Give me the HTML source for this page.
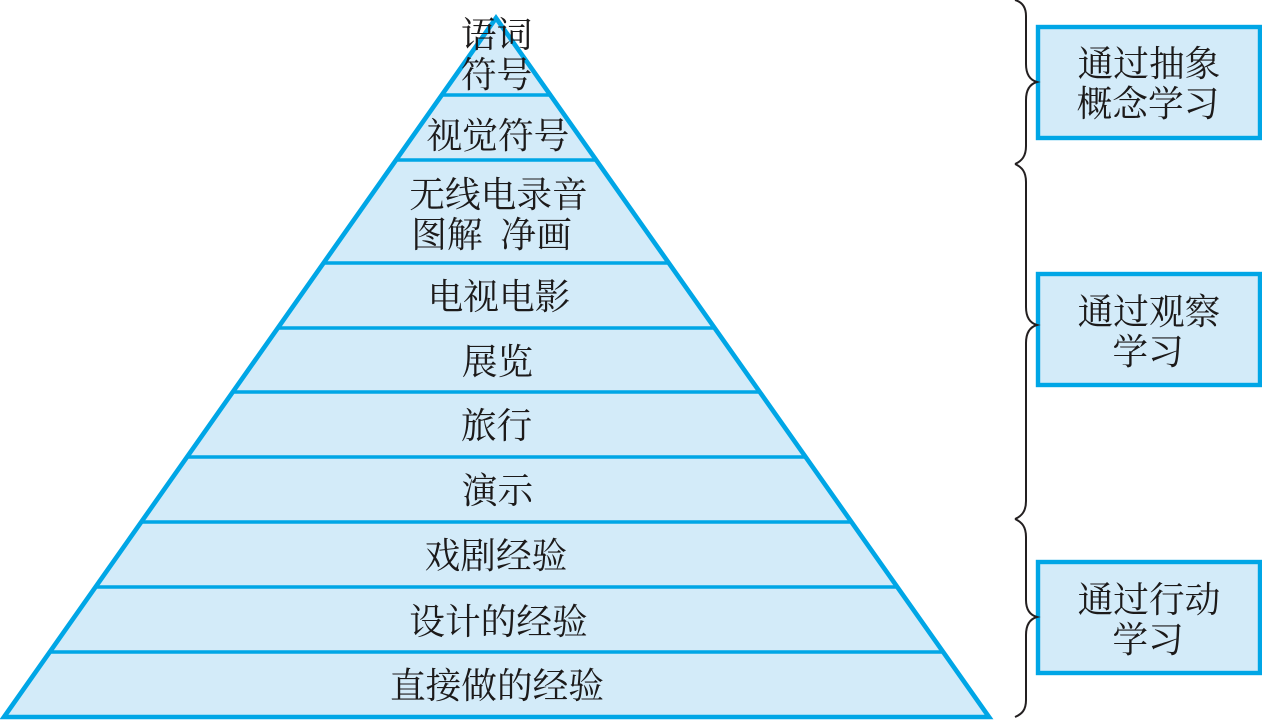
<!DOCTYPE html>
<html lang="zh">
<head>
<meta charset="utf-8">
<style>
html,body{margin:0;padding:0;background:#fff;width:1262px;height:720px;overflow:hidden}
svg{display:block}
text{font-family:"Liberation Serif","Noto Serif CJK SC",serif;font-size:35.7px;fill:#1c1a1a;text-anchor:middle}
</style>
</head>
<body>
<svg width="1262" height="720" viewBox="0 0 1262 720" xmlns="http://www.w3.org/2000/svg">
<polygon points="496,18 4,717 989,717" fill="#d3ebf9" stroke="#00a6e6" stroke-width="4.6" stroke-linejoin="miter"/>
<g stroke="#00a6e6" stroke-width="3.6">
<line x1="441" y1="95" x2="552" y2="95"/>
<line x1="397" y1="160" x2="597" y2="160"/>
<line x1="324" y1="263" x2="668" y2="263"/>
<line x1="278" y1="328" x2="714" y2="328"/>
<line x1="233" y1="392" x2="759" y2="392"/>
<line x1="187" y1="457" x2="805" y2="457"/>
<line x1="141" y1="522" x2="851" y2="522"/>
<line x1="96" y1="587" x2="896" y2="587"/>
<line x1="50" y1="652" x2="942" y2="652"/>
</g>
<text x="496.500" y="47">语词</text>
<text x="496.500" y="87">符号</text>
<text x="498" y="148">视觉符号</text>
<text x="498.500" y="207">无线电录音</text>
<text x="491.500" y="247">图解&#160;&#160;净画</text>
<text x="499" y="309">电视电影</text>
<text x="497.500" y="374">展览</text>
<text x="496.500" y="438">旅行</text>
<text x="497.500" y="503">演示</text>
<text x="496" y="568">戏剧经验</text>
<text x="498.500" y="634">设计的经验</text>
<text x="497" y="698">直接做的经验</text>
<g fill="#d3ebf9" stroke="#00a6e6" stroke-width="4.4">
<rect x="1038" y="27" width="222" height="111"/>
<rect x="1038" y="274" width="222" height="111"/>
<rect x="1038" y="562" width="222" height="111"/>
</g>
<text x="1149" y="76">通过抽象</text>
<text x="1148" y="116">概念学习</text>
<text x="1149" y="324">通过观察</text>
<text x="1148" y="364">学习</text>
<text x="1149" y="612">通过行动</text>
<text x="1148" y="652">学习</text>
<g fill="none" stroke="#231f20" stroke-width="2">
<path d="M1015,0 C1022,2 1026,7 1026,16 L1026,64 C1026,74 1030,80 1037,82 C1030,84 1026,90 1026,100 L1026,146 C1026,156 1022,161 1015,164"/>
<path d="M1015,164 C1022,167 1026,172 1026,182 L1026,307 C1026,317 1030,323 1037,325 C1030,327 1026,333 1026,343 L1026,501 C1026,511 1022,516 1015,519"/>
<path d="M1015,519 C1022,522 1026,527 1026,537 L1026,600 C1026,610 1030,615 1037,617 C1030,619 1026,625 1026,635 L1026,700 C1026,710 1022,714 1015,717"/>
</g>
</svg>
</body>
</html>
